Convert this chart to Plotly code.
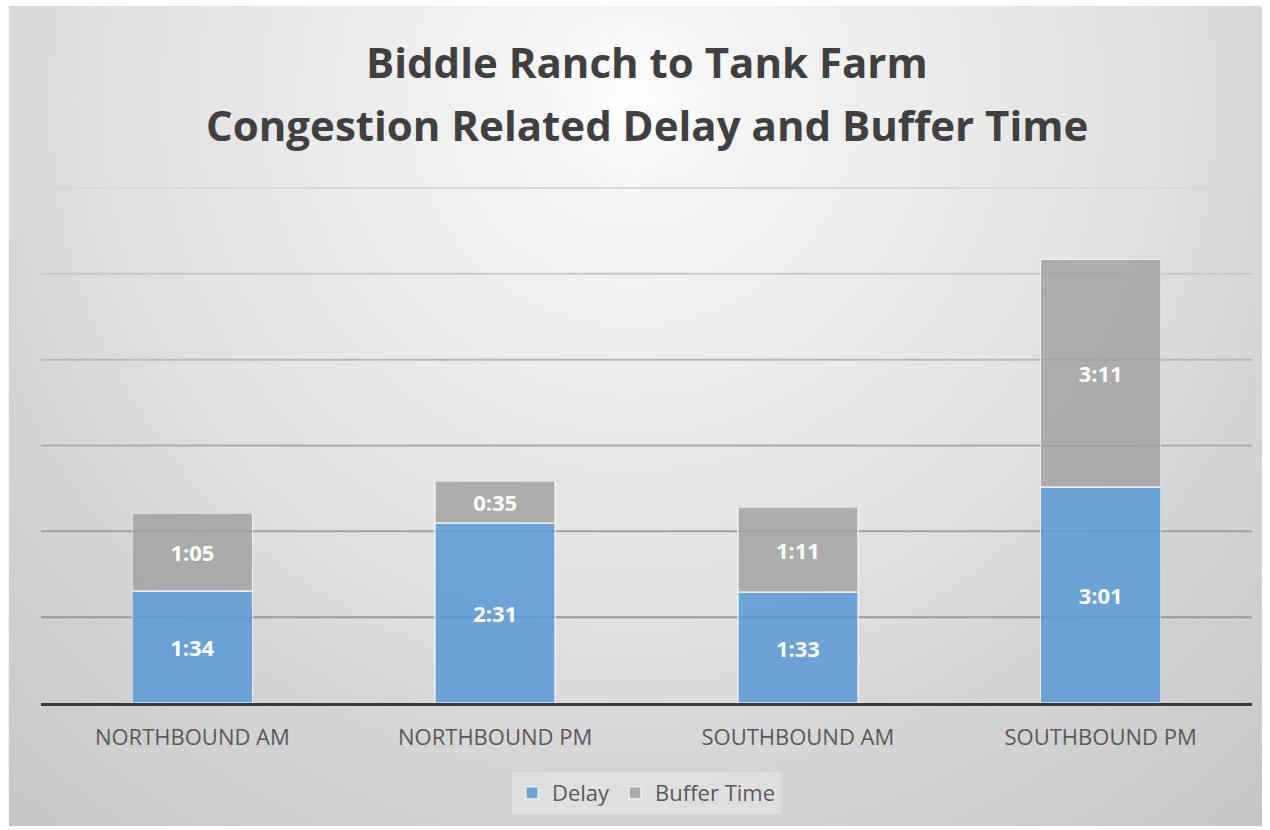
import base64
import plotly.graph_objects as go

# Travel-time components per direction/peak, in seconds
categories = ["NORTHBOUND AM", "NORTHBOUND PM", "SOUTHBOUND AM", "SOUTHBOUND PM"]
delay_sec = [94, 151, 93, 181]      # 1:34, 2:31, 1:33, 3:01
buffer_sec = [65, 35, 71, 191]      # 1:05, 0:35, 1:11, 3:11
grid_step_sec = 72                  # major unit of 1:12
y_max_sec = 432
title_lines = ["Biddle Ranch to Tank Farm", "Congestion Related Delay and Buffer Time"]

# Gridline shades, bottom (1:12) to top (7:12): fade out toward the lit top
grid_colors = ["#999999", "#a2a2a2", "#acacac", "#b8b8b8", "#c9c9c9", "#d9d9d9"]


def mmss(s):
    return f"{s // 60}:{s % 60:02d}"


# Radial grey background for the chart box (lit from the top centre)
W, H = 1254, 820
stops = [(0, "#ffffff"), (0.1, "#f4f4f4"), (0.3, "#ebebeb"), (0.52, "#e0e0e0"),
         (0.69, "#d4d4d4"), (0.85, "#cdcdcd"), (1.0, "#c3c3c3")]
stop_svg = "".join(f"<stop offset='{o}' stop-color='{c}'/>" for o, c in stops)
svg = f"""<svg xmlns='http://www.w3.org/2000/svg' width='{W}' height='{H}' viewBox='0 0 {W} {H}'>
<defs><radialGradient id='g' gradientUnits='userSpaceOnUse' cx='624' cy='94' r='1000'>
{stop_svg}
</radialGradient></defs>
<rect width='{W}' height='{H}' fill='url(#g)'/>
</svg>"""
bg_uri = "data:image/svg+xml;base64," + base64.b64encode(svg.encode()).decode()

fig = go.Figure()

fig.add_trace(go.Bar(
    name="Delay", x=categories, y=delay_sec,
    text=[mmss(v) for v in delay_sec],
    marker=dict(color="rgba(91,155,213,0.88)",
                line=dict(color="rgba(255,255,255,0.55)", width=1.5)),
))
fig.add_trace(go.Bar(
    name="Buffer Time", x=categories, y=buffer_sec,
    text=[mmss(v) for v in buffer_sec],
    marker=dict(color="rgba(160,160,160,0.82)",
                line=dict(color="rgba(255,255,255,0.55)", width=1.5)),
))
fig.update_traces(
    textposition="inside", insidetextanchor="middle",
    textfont=dict(family="Open Sans", size=22, color="white", weight="bold"),
    hovertemplate="%{x}<br>%{text}<extra>%{fullData.name}</extra>",
)

# Plot area edges in pixels
L, R, T, B = 40.5, 1252, 186, 703
pw, ph = R - L, B - T
px_per_sec = (B - 188) / y_max_sec
y_top = y_max_sec + (188 - T) / px_per_sec

title_font = dict(family="Open Sans", size=42, color="#404040", weight="bold")
annotations = [
    dict(text=line, xref="paper", yref="paper", x=0.5, xanchor="center",
         y=(B - yc) / ph, yanchor="middle", showarrow=False, font=title_font)
    for line, yc in zip(title_lines, [62, 125])
]

# Horizontal gridlines drawn beneath the bars
shapes = [
    dict(type="line", xref="paper", yref="y", x0=0, x1=1,
         y0=k * grid_step_sec, y1=k * grid_step_sec, layer="below",
         line=dict(color=c, width=2))
    for k, c in enumerate(grid_colors, start=1)
]

fig.update_layout(
    width=1270, height=830,
    barmode="stack", bargap=0.604,
    margin=dict(l=L, r=1270 - R, t=T, b=830 - B),
    paper_bgcolor="white", plot_bgcolor="rgba(0,0,0,0)",
    font=dict(family="Open Sans", color="#595959"),
    annotations=annotations,
    shapes=shapes,
    xaxis=dict(
        showgrid=False, ticks="", showline=True, linecolor="#3a3a3a", linewidth=3,
        tickfont=dict(size=22, color="#595959"), ticklabelstandoff=13,
    ),
    yaxis=dict(
        range=[0, y_top], dtick=grid_step_sec, tick0=0,
        showticklabels=False, showgrid=False,
        zeroline=False, showline=False,
    ),
    legend=dict(
        orientation="h", x=0.5, xanchor="center", y=(B - 793) / ph, yanchor="middle",
        bgcolor="rgba(228,228,228,0.7)", font=dict(size=22, color="#595959"),
        itemsizing="constant", traceorder="normal",
    ),
    images=[dict(
        source=bg_uri, xref="paper", yref="paper",
        x=(8 - L) / pw, y=(B - 6) / ph, sizex=W / pw, sizey=H / ph,
        xanchor="left", yanchor="top", sizing="stretch", layer="below",
    )],
    showlegend=True,
)

fig.write_html("out.html")
